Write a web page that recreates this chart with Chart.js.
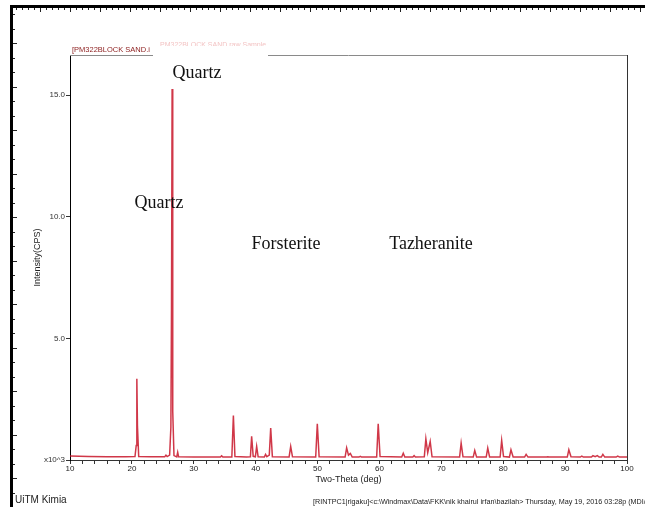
<!DOCTYPE html>
<html>
<head>
<meta charset="utf-8">
<script src="https://cdn.jsdelivr.net/npm/chart.js@4.4.1/dist/chart.umd.min.js"></script>
<style>
  body { margin: 0; background: #fff; }
  #wrap { position: relative; width: 645px; height: 507px; overflow: hidden; background: #fff; }
  canvas { position: absolute; left: 0; top: 0; }
  .lbl { position: absolute; font-family: "Liberation Serif", "Times New Roman", serif; font-size: 18px; color: #111; transform: translate(-50%, -50%); white-space: nowrap; }
  .small { position: absolute; font-family: "Liberation Sans", Arial, sans-serif; white-space: nowrap; }
</style>
</head>
<body>
<div id="wrap">
  <canvas id="grafico" width="645" height="507"></canvas>
  <div class="small" style="left:160px; top:41px; font-size:7px; color:#f3c4c4;">PM322BLOCK SAND.raw  Sample</div>
  <div class="small" style="left:72px; top:45px; font-size:7.5px; color:#8b1c1c;">[PM322BLOCK SAND.i</div>
  <div style="position:absolute; left:153px; top:46px; width:115px; height:40px; background:#fff;"></div>
  <div class="lbl" style="left:197px; top:72px;">Quartz</div>
  <div class="lbl" style="left:159px; top:202px;">Quartz</div>
  <div class="lbl" style="left:286px; top:243px;">Forsterite</div>
  <div class="lbl" style="left:431px; top:243px;">Tazheranite</div>
  <div class="small" style="left:15px; top:494px; font-size:10px; color:#222;">UiTM Kimia</div>
  <div class="small" style="left:313px; top:497px; font-size:7.2px; color:#222;">[RINTPC1|rigaku]&lt;c:\Windmax\Data\FKK\nik khairul irfan\bazilah&gt; Thursday, May 19, 2016 03:28p (MDI/JADE</div>
</div>
<script>
// 2-theta positions (deg), grouped by peak
const twoTheta = [
    10, 13, 16, 19,
    20.5, 20.7, 20.8, 20.9, 21.1,
    23, 25.3, 25.5, 25.7,
    26.1, 26.3, 26.4, 26.5, 26.6, 26.8,
    27.25, 27.4, 27.55,
    30, 34.3, 34.5, 34.7,
    36.15, 36.4, 36.65,
    38.5, 39.15, 39.35, 39.6, 39.95, 40.16, 40.4,
    41.4, 41.6, 41.8, 42.2, 42.43, 42.7,
    45.4, 45.66, 45.95,
    49.7, 49.96, 50.25,
    54.45, 54.7, 55.0, 55.3, 55.6,
    56.7, 56.9, 57.1,
    59.55, 59.8, 60.1,
    63.6, 63.85, 64.1,
    65.4, 65.6, 65.8,
    67.25, 67.5, 67.8, 68.2, 68.5,
    72.95, 73.2, 73.5,
    75.15, 75.4, 75.7,
    77.25, 77.5, 77.8,
    79.5, 79.75, 80.05,
    81.0, 81.25, 81.6,
    83.45, 83.7, 84.0,
    87.0, 87.2, 87.4,
    90.35, 90.6, 90.95,
    92.45, 92.7, 92.95,
    94.25, 94.5, 94.85, 95.2, 95.5,
    95.85, 96.1, 96.4,
    98.25, 98.5, 98.8,
    100
];

// intensity in x10^3 CPS, same grouping
const intensity = [
    0.16, 0.14, 0.13, 0.13,
    0.14, 0.6, 3.34, 1.4, 0.14,
    0.13, 0.13, 0.2, 0.14,
    0.2, 1.35, 6.2, 15.25, 2.0, 0.18,
    0.13, 0.32, 0.13,
    0.12, 0.12, 0.17, 0.12,
    0.12, 1.83, 0.14,
    0.12, 0.13, 0.97, 0.15, 0.13, 0.56, 0.13,
    0.12, 0.23, 0.14, 0.2, 1.31, 0.13,
    0.12, 0.56, 0.13,
    0.12, 1.49, 0.13,
    0.12, 0.5, 0.2, 0.27, 0.12,
    0.12, 0.15, 0.12,
    0.12, 1.49, 0.14,
    0.12, 0.28, 0.12,
    0.12, 0.18, 0.12,
    0.13, 0.87, 0.3, 0.76, 0.13,
    0.12, 0.69, 0.13,
    0.12, 0.39, 0.12,
    0.12, 0.49, 0.12,
    0.12, 0.8, 0.14,
    0.12, 0.42, 0.12,
    0.12, 0.23, 0.12,
    0.12, 0.13, 0.12,
    0.12, 0.42, 0.13,
    0.12, 0.16, 0.12,
    0.12, 0.18, 0.14, 0.18, 0.12,
    0.12, 0.23, 0.12,
    0.12, 0.16, 0.12,
    0.12
];

const yTicks = [0, 5, 10, 15];
const xMin = 10, xMax = 100, yMax = 16.65;

const pontos = twoTheta.map((t, i) => ({ x: t, y: intensity[i] }));

// frame, rulers and white background
const decoracao = {
    id: 'decoracao',
    beforeDraw(chart) {
        const c = chart.ctx;
        c.save();
        c.fillStyle = '#fff';
        c.fillRect(0, 0, chart.width, chart.height);
        c.restore();
    },
    afterDraw(chart) {
        const c = chart.ctx;
        const a = chart.chartArea;
        c.save();
        // top and right border of the plot
        c.strokeStyle = '#8a8a8a';
        c.lineWidth = 1;
        c.beginPath();
        c.moveTo(a.left, a.top + 0.5);
        c.lineTo(a.right, a.top + 0.5);
        c.stroke();
        c.strokeStyle = '#333';
        c.beginPath();
        c.moveTo(a.right + 0.5, a.top);
        c.lineTo(a.right + 0.5, a.bottom);
        c.stroke();

        // rulers
        c.fillStyle = '#000';
        c.fillRect(10, 5, 645, 3);
        c.fillRect(10, 5, 3, 507);
        c.strokeStyle = '#222';
        c.lineWidth = 1;
        for (let x = 16, k = 0; x < 645; x += 6, k++) {
            c.beginPath();
            c.moveTo(x + 0.5, 8);
            c.lineTo(x + 0.5, k % 5 === 4 ? 12 : 10);
            c.stroke();
        }
        for (let y = 14, k = 0; y < 507; y += 14.5, k++) {
            c.beginPath();
            c.moveTo(13, Math.round(y) + 0.5);
            c.lineTo(k % 3 === 2 ? 17 : 15, Math.round(y) + 0.5);
            c.stroke();
        }
        c.restore();
    }
};

new Chart(document.getElementById('grafico'), {
    type: 'line',
    data: {
        datasets: [{
            data: pontos,
            borderColor: 'rgba(200, 20, 40, 0.85)',
            borderWidth: 1.5,
            pointRadius: 0,
            tension: 0,
            fill: false
        }]
    },
    options: {
        responsive: false,
        animation: false,
        layout: { padding: { left: 32, right: 18, top: 55, bottom: 17 } },
        plugins: { legend: { display: false }, tooltip: { enabled: false } },
        scales: {
            x: {
                type: 'linear',
                min: xMin,
                max: xMax,
                afterFit: (s) => { s.height = 30; },
                border: { color: '#333', width: 1 },
                grid: { drawOnChartArea: false, tickLength: 4, color: '#333' },
                ticks: {
                    stepSize: 2,
                    autoSkip: false,
                    maxRotation: 0,
                    padding: 0,
                    color: '#222',
                    font: { family: 'Liberation Sans, Arial', size: 8 },
                    callback: (v) => (v % 10 === 0 ? v : '')
                },
                title: {
                    display: true,
                    text: 'Two-Theta (deg)',
                    color: '#222',
                    padding: { top: 0, bottom: 5 },
                    font: { family: 'Liberation Sans, Arial', size: 9 }
                }
            },
            y: {
                min: 0,
                max: yMax,
                afterFit: (s) => { s.width = 38; },
                afterBuildTicks: (s) => { s.ticks = yTicks.map(v => ({ value: v })); },
                border: { color: '#000', width: 1 },
                grid: { drawOnChartArea: false, tickLength: 4, color: '#333' },
                ticks: {
                    padding: 1,
                    color: '#333',
                    font: { family: 'Liberation Sans, Arial', size: 8 },
                    callback: (v) => (v === 0 ? 'x10^3' : v.toFixed(1))
                },
                title: {
                    display: true,
                    text: 'Intensity(CPS)',
                    color: '#222',
                    padding: { top: 0, bottom: 0 },
                    font: { family: 'Liberation Sans, Arial', size: 9 }
                }
            }
        }
    },
    plugins: [decoracao]
});
</script>
</body>
</html>
